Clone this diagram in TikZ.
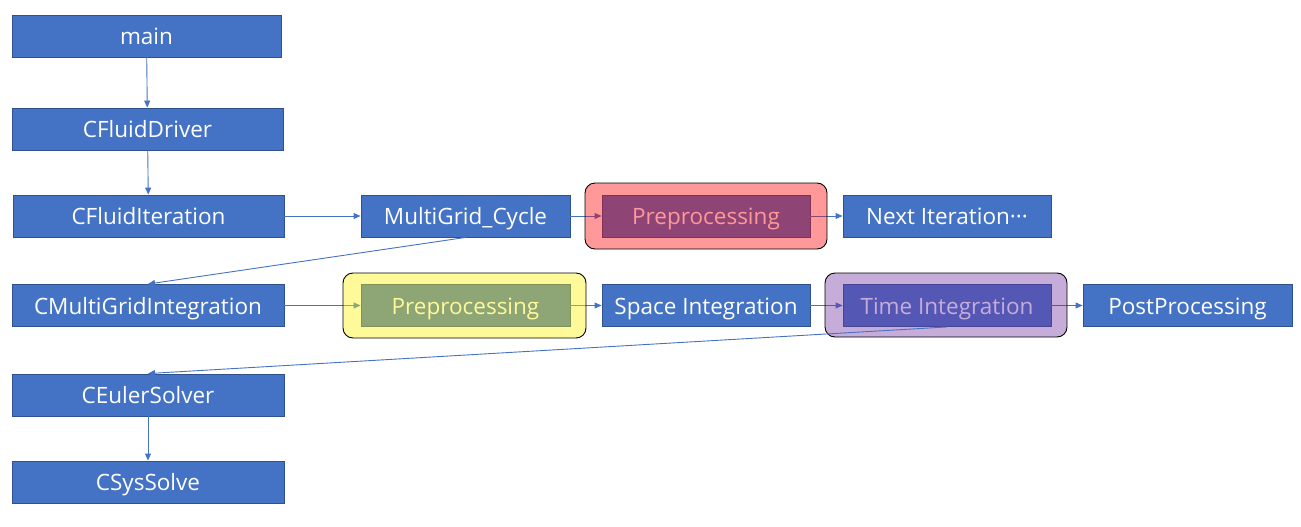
\documentclass[tikz,border=0pt]{standalone}
\usepackage{fontspec}
\setmainfont{Open Sans}
\usetikzlibrary{arrows.meta}
\definecolor{nodeblue}{HTML}{4472C4}
\definecolor{nodeedge}{HTML}{2F528F}
\definecolor{ovpurple}{HTML}{7030A0}
\tikzset{
  box/.style={draw=nodeedge, line width=0.9pt, fill=nodeblue, text=white, inner sep=0pt,
    minimum height=42pt, text height=17pt, text depth=0pt, font=\fontsize{22.5}{26}\selectfont},
  conn/.style={draw=nodeblue, line width=0.9pt, -{Triangle[length=7pt,width=6pt]}},
  hilite/.style={rounded corners=10pt, draw=black, line width=0.9pt, fill opacity=0.4, inner sep=0pt},
}
\begin{document}
\begin{tikzpicture}[x=1pt,y=-1pt]
\useasboundingbox (0,0) rectangle (1301,527);
% left column
\node[box, minimum width=269pt] (main) at (146.5,36) {main};
\node[box, minimum width=271pt] (drv) at (147.5,129) {CFluidDriver};
\node[box, minimum width=271pt] (fit) at (148.5,216) {CFluidIteration};
\node[box, minimum width=272pt] (mgi) at (148,305.5) {CMultiGridIntegration};
\node[box, minimum width=272pt] (eul) at (148,395) {CEulerSolver};
\node[box, minimum width=272pt] (sys) at (148,482) {CSysSolve};
% top row
\node[box, minimum width=209pt] (mgc) at (465.5,216) {MultiGrid\_Cycle};
\node[box, minimum width=208pt] (pre1) at (706,216) {Preprocessing};
\node[box, minimum width=208pt] (next) at (947,216) {Next Iteration\textperiodcentered\textperiodcentered\textperiodcentered};
% bottom row
\node[box, minimum width=209pt] (pre2) at (465.5,305.5) {Preprocessing};
\node[box, minimum width=208pt] (space) at (706,305.5) {Space Integration};
\node[box, minimum width=208pt] (time) at (947,305.5) {Time Integration};
\node[box, minimum width=209pt] (post) at (1187.5,305.5) {PostProcessing};
% connectors
\draw[conn] (main) -- (drv);
\draw[conn] (drv) -- (fit);
\draw[conn] (eul) -- (sys);
\draw[conn] (fit) -- (mgc);
\draw[conn] (mgc) -- (pre1);
\draw[conn] (pre1) -- (next);
\draw[conn] (mgi) -- (pre2);
\draw[conn] (pre2) -- (space);
\draw[conn] (space) -- (time);
\draw[conn] (time) -- (post);
\draw[conn] (mgc.south) -- (mgi.north);
% highlight frames
\node[hilite, fill=red, minimum width=242pt, minimum height=66pt] (ov1) at (706,216) {};
\node[hilite, fill=yellow, minimum width=243pt, minimum height=65pt] (ov2) at (464.5,305.5) {};
\node[hilite, fill=ovpurple, minimum width=242pt, minimum height=64pt] (ov3) at (946,305) {};
\draw[conn] (time.south) -- (eul.north);
\end{tikzpicture}
\end{document}
